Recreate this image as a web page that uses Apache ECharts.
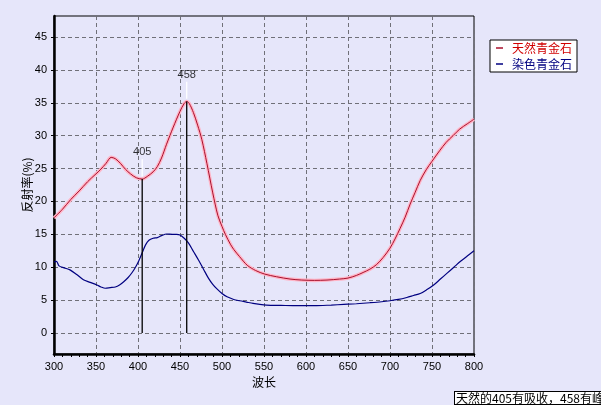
<!DOCTYPE html>
<html>
<head>
<meta charset="utf-8">
<script src="https://cdn.jsdelivr.net/npm/echarts@6/dist/echarts.min.js"></script>
<style>
html,body{margin:0;padding:0;background:#E6E6FA;}
#c{width:601px;height:405px;}
</style>
</head>
<body>
<div id="c"></div>
<script>
// ---- data ----
var naturalNm = [300,310,320,330,340,350,355,362,368,373,379,385,391,398,405,411,418,423,428,434,442,450,455,458,461,466,471,476,482,489,495,500,504,510,514,521,530,540,551,565,581,595,610,625,640,650,660,668,676,684,692,700,706,712,718,724,730,736,743,750,759,767,775,783,792,800];
var naturalVal = [17.5,18.8,20.3,21.6,23.0,24.2,24.8,25.8,26.7,26.5,25.8,24.9,24.2,23.6,23.4,23.8,24.5,25.3,26.6,28.7,31.3,33.7,34.9,35.2,34.9,33.5,31.6,29.4,25.8,21.3,17.9,16.2,15.0,13.5,12.7,11.6,10.3,9.5,8.95,8.55,8.2,8.05,8.0,8.05,8.2,8.35,8.75,9.2,9.7,10.4,11.5,12.9,14.3,15.9,17.6,19.6,21.4,23.2,24.8,26.1,27.7,29.0,30.0,31.0,31.8,32.5];
var dyedNm = [300,303,306,312,319,327,335,343,351,356,361,367,373,378,383,388,393,397,401,405,409,413,418,423,428,434,441,446,450,455,460,466,472,478,484,489,494,500,506,514,521,529,537,545,553,570,590,610,630,645,660,676,690,700,710,720,728,736,744,752,760,768,776,784,792,800];
var dyedVal = [10.8,10.9,10.2,9.9,9.6,8.9,8.1,7.7,7.3,7.0,6.8,6.9,7.0,7.3,7.8,8.4,9.2,10.0,11.0,12.2,13.4,14.1,14.4,14.5,14.8,15.05,15.0,15.0,14.9,14.4,13.7,12.4,11.1,9.7,8.3,7.4,6.7,6.0,5.5,5.1,4.9,4.7,4.5,4.35,4.25,4.2,4.15,4.15,4.25,4.35,4.45,4.6,4.75,4.9,5.1,5.4,5.7,6.0,6.6,7.3,8.2,9.1,10.0,10.9,11.7,12.5];
var peakNm = [405, 458];
var peakVal = [23.4, 35.2];
var peakTickTop = [26.4, 38.2];
var seriesNames = ['天然青金石', '染色青金石'];
var xName = '波长';
var yName = '反射率(%)';
var note = '天然的405有吸收，458有峰';

function zip(a, b) { return a.map(function (v, i) { return [v, b[i]]; }); }

var RED = '#A8102C', PINK = '#FFB4C6', NAVY = '#000080';
var CJK = '"Noto Sans CJK SC", sans-serif';
var NUM = '"Liberation Sans", Arial, sans-serif';

var series = [
  { type:'line', name:'glow', xAxisIndex:1, yAxisIndex:1, data: zip(naturalNm, naturalVal), showSymbol:false, symbol:'none', smooth:0.3, lineStyle:{color:PINK, width:3.5}, itemStyle:{color:PINK}, silent:true, z:2 },
  { type:'line', name:seriesNames[0], xAxisIndex:1, yAxisIndex:1, data: zip(naturalNm, naturalVal), showSymbol:false, symbol:'none', smooth:0.3, lineStyle:{color:RED, width:1}, itemStyle:{color:RED}, z:3 },
  { type:'line', name:seriesNames[1], xAxisIndex:1, yAxisIndex:1, data: zip(dyedNm, dyedVal), showSymbol:false, symbol:'none', smooth:0.3, lineStyle:{color:NAVY, width:1.2}, itemStyle:{color:NAVY}, z:3 }
];
peakNm.forEach(function (w, i) {
  series.push({ type:'line', name:'v'+i, xAxisIndex:1, yAxisIndex:1, data:[[w,0],[w,peakVal[i]]], symbol:'none', lineStyle:{color:'#000', width:1.3}, silent:true, z:4 });
  series.push({ type:'line', name:'w'+i, xAxisIndex:1, yAxisIndex:1, data:[[w,peakVal[i]+0.4],[w,peakTickTop[i]]], symbol:'none', lineStyle:{color:'#fff', width:1.3}, silent:true, z:4 });
});
series.push({ type:'scatter', name:'lbl', xAxisIndex:1, yAxisIndex:1, data: zip(peakNm, peakTickTop), symbolSize:1, itemStyle:{color:'rgba(0,0,0,0)'}, silent:true,
  label:{show:true, position:'top', distance:1, color:'#000', fontFamily:NUM, fontSize:11, formatter:function(p){return String(p.value[0]);}} });

var chart = echarts.init(document.getElementById('c'), null, {renderer:'canvas'});
chart.setOption({
  backgroundColor:'#E6E6FA',
  animation:false,
  grid:[
    { left:54, right:127, top:16, bottom:51, show:true, borderColor:'#000', borderWidth:1, backgroundColor:'transparent' },
    { left:54, right:127, top:37, bottom:72 }
  ],
  xAxis:[
    { type:'value', gridIndex:0, min:300, max:800, interval:50,
      name:xName, nameLocation:'middle', nameGap:22, nameMoveOverlap:false, nameTextStyle:{fontFamily:CJK, fontSize:12, color:'#000'},
      axisLine:{show:true, onZero:false, lineStyle:{color:'#000', width:2.5}},
      axisTick:{show:true, length:3, lineStyle:{color:'#000'}},
      minorTick:{show:true, splitNumber:5, length:3, lineStyle:{color:'#000'}},
      axisLabel:{color:'#000', fontFamily:NUM, fontSize:11, margin:7},
      splitLine:{show:true, lineStyle:{color:'#707078', width:1, type:[4,3]}} },
    { type:'value', gridIndex:1, min:300, max:800, show:false }
  ],
  yAxis:[
    { type:'value', gridIndex:0, min:-3.2, max:48.2,
      axisLine:{show:true, onZero:false, lineStyle:{color:'#000', width:2.5}},
      axisTick:{show:false}, axisLabel:{show:false}, splitLine:{show:false} },
    { type:'value', gridIndex:1, min:0, max:45, interval:5,
      name:yName, nameLocation:'middle', nameGap:21, nameMoveOverlap:false, nameRotate:90, nameTextStyle:{fontFamily:CJK, fontSize:12, color:'#000'},
      axisLine:{show:false},
      axisTick:{show:true, length:3, lineStyle:{color:'#000'}},
      axisLabel:{color:'#000', fontFamily:NUM, fontSize:11, margin:7},
      splitLine:{show:true, lineStyle:{color:'#707078', width:1, type:[4,3]}} }
  ],
  legend:{
    left:490, top:40, orient:'vertical', padding:[1,5,1,6], itemGap:2,
    backgroundColor:'#fff', borderColor:'#000', borderWidth:1, borderRadius:0,
    icon:'rect', itemWidth:7, itemHeight:1.5,
    textStyle:{fontFamily:CJK, fontSize:12, lineHeight:14, padding:[0,0,0,4]},
    data:[
      {name:seriesNames[0], textStyle:{color:'#D00000'}},
      {name:seriesNames[1], textStyle:{color:NAVY}}
    ]
  },
  graphic:[
    { type:'text', left:454, top:391, z:10,
      style:{ text:note, font:'12px ' + CJK, fill:'#000', backgroundColor:'#fff', borderColor:'#000', borderWidth:1, padding:[0,1,0,1] } }
  ],
  series:series
});
</script>
</body>
</html>
